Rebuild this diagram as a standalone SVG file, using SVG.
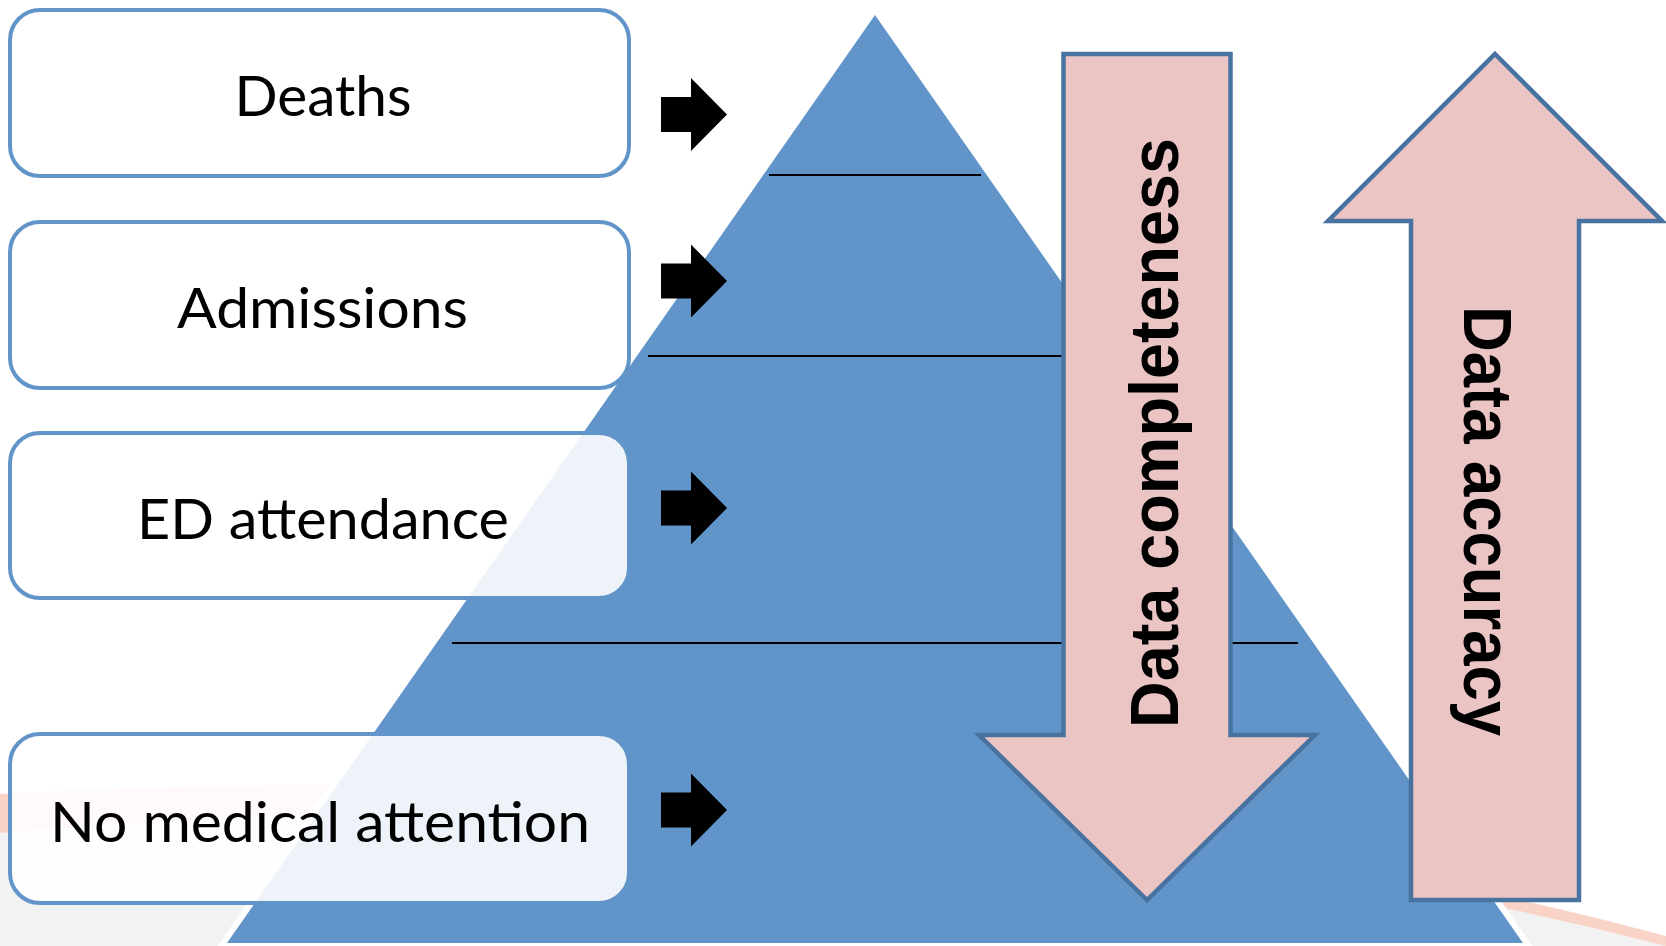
<svg xmlns="http://www.w3.org/2000/svg" width="1666" height="946" viewBox="0 0 1666 946">
<style>
.box{fill:#fff;fill-opacity:0.89;stroke:#6195C9;stroke-width:4}
.lbl{font-family:Lato,"Liberation Sans",sans-serif;font-size:57px;fill:#000;text-anchor:middle}
.lvl{stroke:#000;stroke-width:2}
.big{fill:#EBC5C4;stroke:#4873A1;stroke-width:4.5;stroke-linejoin:miter}
.bigt{font-family:"Liberation Sans",Arial,sans-serif;font-weight:bold;font-size:68px;fill:#000;text-anchor:middle}
.sarr{fill:#000}
</style>
<defs>
<path id="arr" d="M0,-17.5 H30 V-36.5 L66,0 L30,36.5 V17.5 H0 Z"/>
</defs>
<g id="background">
<rect width="1666" height="946" fill="#fff"/>
<path d="M0,833 Q955,761 1666,946 L0,946 Z" fill="#F2F2F2"/>
<path d="M0,794 Q955,745 1666,936 L1666,946 Q955,761 0,833 Z" fill="#F9D3C6"/>
</g>
<g id="pyramid">
<polygon points="875,15 1523,943 227,943" fill="#6195C9" stroke="#fff" stroke-width="12" paint-order="stroke"/>
<line class="lvl" x1="769" y1="175" x2="981" y2="175"/>
<line class="lvl" x1="648" y1="356" x2="1100" y2="356"/>
<line class="lvl" x1="452" y1="643" x2="1298" y2="643"/>
</g>
<g id="node-deaths">
<rect class="box" x="10" y="10" width="619" height="166" rx="30"/>
<text class="lbl" x="323" y="116" textLength="177" lengthAdjust="spacingAndGlyphs">Deaths</text>
</g>
<g id="node-admissions">
<rect class="box" x="10" y="222" width="619" height="166" rx="30"/>
<text class="lbl" x="322.5" y="328" textLength="291" lengthAdjust="spacingAndGlyphs">Admissions</text>
</g>
<g id="node-ed">
<rect class="box" x="10" y="433" width="619" height="165" rx="30"/>
<text class="lbl" x="323" y="539" textLength="372" lengthAdjust="spacingAndGlyphs">ED attendance</text>
</g>
<g id="node-nomedical">
<rect class="box" x="10" y="734" width="619" height="169" rx="30"/>
<text class="lbl" x="320" y="842" textLength="540" lengthAdjust="spacingAndGlyphs">No medical attention</text>
</g>
<g id="connectors">
<use href="#arr" class="sarr" transform="translate(661,114.5)"/>
<use href="#arr" class="sarr" transform="translate(661,281)"/>
<use href="#arr" class="sarr" transform="translate(661,508)"/>
<use href="#arr" class="sarr" transform="translate(661,810)"/>
</g>
<g id="arrow-completeness">
<polygon class="big" points="1063.5,54 1230.5,54 1230.5,735 1315,735 1147,900 979,735 1063.5,735"/>
<text class="bigt" transform="translate(1178,433) rotate(-90)" textLength="590" lengthAdjust="spacingAndGlyphs">Data completeness</text>
</g>
<g id="arrow-accuracy">
<polygon class="big" points="1495,54 1662,221 1579,221 1579,900 1411,900 1411,221 1328,221"/>
<text class="bigt" transform="translate(1464,521) rotate(90)" textLength="430" lengthAdjust="spacingAndGlyphs">Data accuracy</text>
</g>
</svg>
